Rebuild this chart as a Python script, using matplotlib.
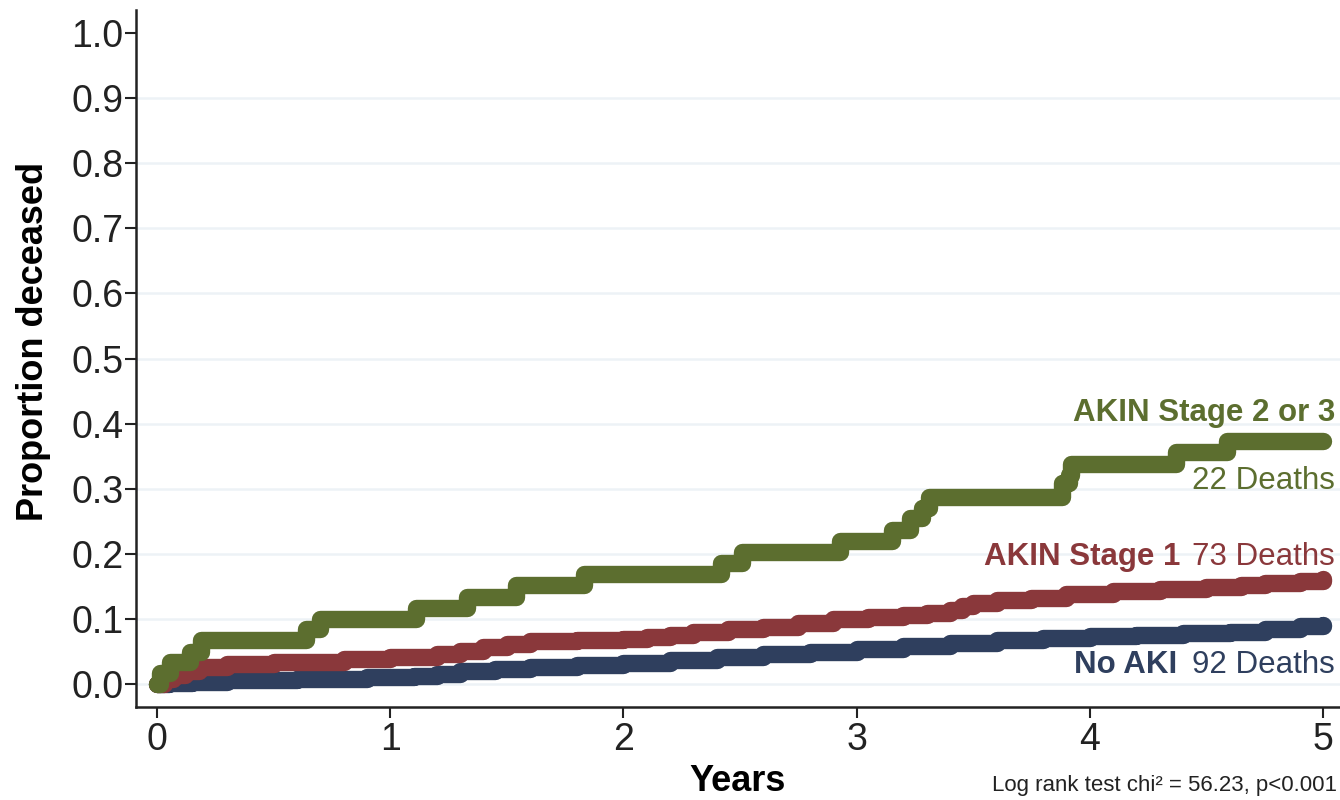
import numpy as np
import matplotlib
matplotlib.use("Agg")
import matplotlib.pyplot as plt

plt.rcParams["font.family"] = ["Liberation Sans", "DejaVu Sans"]

# ── data ──────────────────────────────────────────────────────────────────────
green_t = [0, 0.013, 0.056, 0.14, 0.19, 0.64, 0.70, 1.11, 1.33, 1.54, 1.83,
           2.42, 2.51, 2.93, 3.15, 3.23, 3.28, 3.31, 3.88, 3.91, 3.92, 4.37, 4.59, 5.0]
green_v = [0, 0.017, 0.034, 0.050, 0.068, 0.085, 0.101, 0.118, 0.134, 0.152, 0.170,
           0.186, 0.203, 0.220, 0.237, 0.255, 0.270, 0.287, 0.309, 0.321, 0.339, 0.356, 0.374, 0.374]

red_t = [0, 0.03, 0.07, 0.12, 0.18, 0.3, 0.5, 0.8, 1.0, 1.2, 1.3, 1.4, 1.5, 1.6, 1.8,
         2.0, 2.1, 2.2, 2.3, 2.45, 2.6, 2.75, 2.9, 3.05, 3.2, 3.3, 3.4, 3.45, 3.5, 3.6,
         3.75, 3.9, 4.1, 4.3, 4.5, 4.65, 4.75, 4.9, 5.0]
red_v = [0, 0.008, 0.014, 0.020, 0.027, 0.031, 0.034, 0.039, 0.042, 0.047, 0.052, 0.057,
         0.062, 0.066, 0.068, 0.070, 0.073, 0.076, 0.080, 0.085, 0.088, 0.094, 0.100, 0.103,
         0.107, 0.110, 0.114, 0.120, 0.125, 0.129, 0.133, 0.139, 0.144, 0.147, 0.149, 0.152,
         0.156, 0.159, 0.162]

blue_t = [0, 0.05, 0.15, 0.3, 0.6, 0.9, 1.1, 1.2, 1.3, 1.45, 1.6, 1.8, 2.0, 2.2, 2.4, 2.6,
          2.8, 3.0, 3.2, 3.4, 3.6, 3.8, 4.0, 4.2, 4.4, 4.6, 4.75, 4.9, 5.0]
blue_v = [0, 0.002, 0.004, 0.006, 0.008, 0.011, 0.013, 0.016, 0.020, 0.024, 0.026, 0.029,
          0.033, 0.037, 0.042, 0.046, 0.050, 0.054, 0.059, 0.063, 0.068, 0.071, 0.074,
          0.076, 0.079, 0.081, 0.085, 0.089, 0.091]

x_ticks = [0, 1, 2, 3, 4, 5]
y_ticks = [0.0, 0.1, 0.2, 0.3, 0.4, 0.5, 0.6, 0.7, 0.8, 0.9, 1.0]

GREEN = "#5c6e2f"
RED = "#8a383b"
NAVY = "#2f3f5e"

# ── plot ───────────────────────────────────────────────────────────────────────
fig = plt.figure(figsize=(13.4, 8.0), dpi=100)
ax = fig.add_axes([0.1015, 0.116, 0.8985, 0.8715])

for yv in y_ticks[:-1]:
    ax.axhline(yv, color="#edf2f6", lw=1.8, zorder=0)

kw = dict(where="post", lw=12.5, solid_capstyle="round", solid_joinstyle="round")
ax.step(blue_t, blue_v, color=NAVY, zorder=2, **kw)
ax.step(red_t, red_v, color=RED, zorder=3, **kw)
ax.step(green_t, green_v, color=GREEN, zorder=4, **kw)

ax.set_xlim(-0.09, 5.073)
ax.set_ylim(-0.035, 1.035)
ax.set_xticks(x_ticks)
ax.set_yticks(y_ticks)
ax.set_yticklabels([f"{v:.1f}" for v in y_ticks])
ax.tick_params(axis="both", direction="out", length=8, width=1.5, labelsize=27,
               color="#222222", labelcolor="#222222")
ax.tick_params(axis="y", pad=1)
ax.tick_params(axis="x", pad=3)
for s in ["top", "right"]:
    ax.spines[s].set_visible(False)
for s in ["left", "bottom"]:
    ax.spines[s].set_linewidth(1.8)
    ax.spines[s].set_color("#222222")

ax.set_xlabel("Years", fontsize=26, fontweight="bold", labelpad=4)
ax.set_ylabel("Proportion deceased", fontsize=26, fontweight="bold")
ax.yaxis.set_label_coords(-0.0705, 0.524)

# curve labels (figure pixel coords)
def ftext(px, py, s, **k):
    fig.text(px / 1340, 1 - py / 800, s, va="center", **k)

ftext(1335, 413, "AKIN Stage 2 or 3", ha="right", color=GREEN, fontsize=22.5, fontweight="bold")
ftext(1335, 481, "22 Deaths", ha="right", color=GREEN, fontsize=22.5)
ftext(1180, 557, "AKIN Stage 1", ha="right", color=RED, fontsize=22.5, fontweight="bold")
ftext(1335, 557, "73 Deaths", ha="right", color=RED, fontsize=22.5)
ftext(1177, 665, "No AKI", ha="right", color=NAVY, fontsize=22.5, fontweight="bold")
ftext(1335, 665, "92 Deaths", ha="right", color=NAVY, fontsize=22.5)
ftext(1337, 786, "Log rank test chi\u00b2 = 56.23, p<0.001", ha="right",
      color="#222222", fontsize=16)

fig.savefig("out.png", dpi=100)
